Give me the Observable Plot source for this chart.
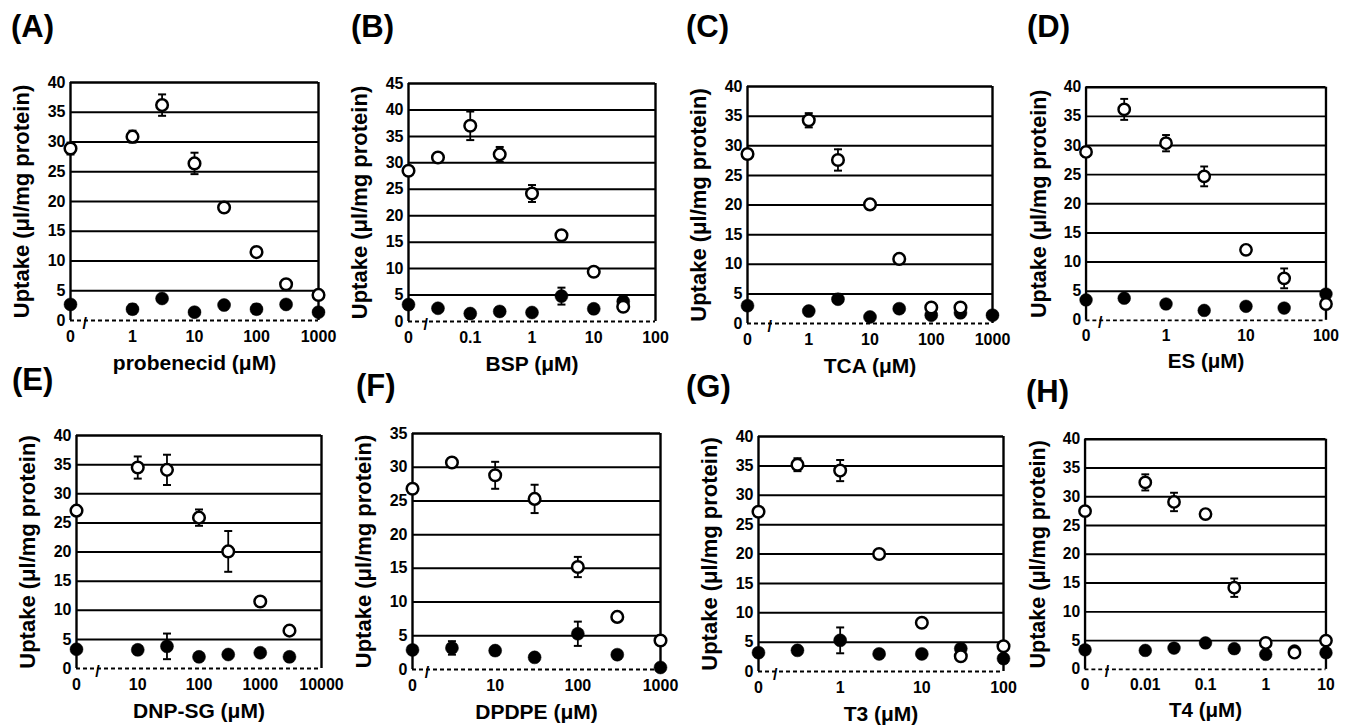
<!DOCTYPE html>
<html><head><meta charset="utf-8">
<script src="https://cdn.jsdelivr.net/npm/d3@7"></script>
<script src="https://cdn.jsdelivr.net/npm/@observablehq/plot@0.6"></script>
<style>
body{margin:0;background:#fff;}
#root{position:relative;width:1349px;height:728px;overflow:hidden;font-family:"Liberation Sans",Arial,sans-serif;background:#fff;}
.plab{position:absolute;font-weight:bold;font-size:31px;line-height:31px;color:#000;}
.pan{position:absolute;}
.pan svg{overflow:visible;}
</style></head><body><div id="root"></div>
<script>
// ---------- data ----------
// (A) probenecid
const concA = [0, 1, 3, 10, 30, 100, 300, 1000];
const openA = [28.9, 30.9, 36.2, 26.4, 19.0, 11.5, 6.1, 4.3];
const openErrA = [1.0, 1.0, 1.8, 1.8, 0.5, 0.6, 0.5, 0.4];
const filledA = [2.7, 1.9, 3.7, 1.4, 2.6, 1.9, 2.7, 1.4];
const filledErrA = [0.5, 0.8, 0.5, 0.5, 0.4, 0.8, 0.6, 0.4];
const ticksA = [0, 1, 10, 100, 1000];

// (B) BSP
const concB = [0, 0.03, 0.1, 0.3, 1, 3, 10, 30];
const openB = [28.5, 31.0, 37.0, 31.6, 24.2, 16.3, 9.4, 2.8];
const openErrB = [0.8, 0.5, 2.7, 1.4, 1.6, 0.8, 0.5, 0.5];
const filledB = [3.2, 2.5, 1.5, 1.9, 1.7, 4.8, 2.4, 3.8];
const filledErrB = [0.5, 0.4, 0.4, 0.8, 0.4, 1.6, 0.4, 0.8];
const ticksB = [0, 0.1, 1, 10, 100];

// (C) TCA
const concC = [0, 1, 3, 10, 30, 100, 300, 1000];
const openC = [28.6, 34.3, 27.6, 20.1, 10.9, 2.7, 2.7, null];
const openErrC = [0.8, 1.2, 1.8, 0.8, 0.6, 0.5, 0.5, 0];
const filledC = [3.0, 2.1, 4.1, 1.1, 2.5, 1.4, 1.8, 1.4];
const filledErrC = [0.5, 0.4, 0.5, 0.4, 0.4, 0.4, 0.4, 0.4];
const ticksC = [0, 1, 10, 100, 1000];

// (D) ES
const concD = [0, 0.3, 1, 3, 10, 30, 100];
const openD = [28.9, 36.2, 30.4, 24.7, 12.1, 7.2, 2.8];
const openErrD = [0.8, 1.8, 1.4, 1.7, 0.5, 1.7, 0.5];
const filledD = [3.5, 3.8, 2.8, 1.7, 2.4, 2.1, 4.5];
const filledErrD = [0.4, 0.4, 0.4, 0.4, 0.4, 0.4, 0.6];
const ticksD = [0, 1, 10, 100];

// (E) DNP-SG
const concE = [0, 10, 30, 100, 300, 1000, 3000];
const openE = [27.1, 34.5, 34.1, 25.9, 20.1, 11.5, 6.5];
const openErrE = [0.5, 1.9, 2.6, 1.4, 3.5, 0.5, 0.5];
const filledE = [3.3, 3.2, 3.8, 2.0, 2.4, 2.7, 2.0];
const filledErrE = [0.4, 0.5, 2.2, 0.4, 0.4, 0.4, 0.4];
const ticksE = [0, 10, 100, 1000, 10000];

// (F) DPDPE
const concF = [0, 3, 10, 30, 100, 300, 1000];
const openF = [26.8, 30.7, 28.8, 25.3, 15.2, 7.8, 4.3];
const openErrF = [0.5, 0.6, 2.0, 2.1, 1.5, 0.5, 0.5];
const filledF = [2.9, 3.2, 2.8, 1.8, 5.3, 2.2, 0.3];
const filledErrF = [0.4, 1.0, 0.4, 0.4, 1.8, 0.4, 0.2];
const ticksF = [0, 10, 100, 1000];

// (G) T3
const concG = [0, 0.3, 1, 3, 10, 30, 100];
const openG = [27.2, 35.2, 34.2, 20.0, 8.3, 2.6, 4.3];
const openErrG = [0.5, 1.1, 1.8, 0.5, 0.5, 0.5, 0.5];
const filledG = [3.2, 3.6, 5.3, 3.0, 3.0, 3.9, 2.2];
const filledErrG = [0.4, 0.4, 2.2, 0.4, 0.4, 0.6, 0.4];
const ticksG = [0, 1, 10, 100];

// (H) T4
const concH = [0, 0.01, 0.03, 0.1, 0.3, 1, 3, 10];
const openH = [27.5, 32.5, 29.1, 27.0, 14.2, 4.6, 2.9, 5.0];
const openErrH = [0.5, 1.4, 1.6, 0.5, 1.6, 0.5, 0.5, 0.5];
const filledH = [3.4, 3.3, 3.7, 4.6, 3.6, 2.6, 3.2, 2.9];
const filledErrH = [0.4, 0.4, 0.4, 0.5, 0.4, 0.4, 0.4, 0.4];
const ticksH = [0, 0.01, 0.1, 1, 10];

// axis settings: where "0" sits on the log axis, axis end, break position, y max
const panelIds = ["A", "B", "C", "D", "E", "F", "G", "H"];
const xLabels = ["probenecid (μM)", "BSP (μM)", "TCA (μM)", "ES (μM)", "DNP-SG (μM)", "DPDPE (μM)", "T3 (μM)", "T4 (μM)"];
const zeroAt = [0.1, 0.01, 0.1, 0.1, 1, 1, 0.1, 0.001];
const xMax = [1000, 100, 1000, 100, 10000, 1000, 100, 10];
const breakAt = [0.17, 0.019, 0.23, 0.15, 2.2, 1.5, 0.16, 0.0023];
const yMax = [40, 45, 40, 40, 40, 35, 40, 40];
const yLabel = "Uptake (μl/mg protein)";

// ---------- layout ----------
const frames = [
  {l: 70, t: 82, w: 248, h: 238},
  {l: 408, t: 83, w: 247, h: 238},
  {l: 747, t: 86, w: 245, h: 237},
  {l: 1087, t: 87, w: 245, h: 238},
  {l: 76, t: 435, w: 245, h: 233},
  {l: 412, t: 433, w: 248, h: 236},
  {l: 758, t: 436, w: 245, h: 235},
  {l: 1086, t: 439, w: 246, h: 235}
];
const tagPos = [
  {x: 11, y: 11}, {x: 351, y: 11}, {x: 686, y: 11}, {x: 1027, y: 11},
  {x: 12, y: 364}, {x: 356, y: 370}, {x: 686, y: 371}, {x: 1026, y: 376}
];

const series = {
  A: [concA, openA, openErrA, filledA, filledErrA, ticksA],
  B: [concB, openB, openErrB, filledB, filledErrB, ticksB],
  C: [concC, openC, openErrC, filledC, filledErrC, ticksC],
  D: [concD, openD, openErrD, filledD, filledErrD, ticksD],
  E: [concE, openE, openErrE, filledE, filledErrE, ticksE],
  F: [concF, openF, openErrF, filledF, filledErrF, ticksF],
  G: [concG, openG, openErrG, filledG, filledErrG, ticksG],
  H: [concH, openH, openErrH, filledH, filledErrH, ticksH]
};

const root = document.getElementById("root");
const mL = 70, mR = 24, mT = 12, mB = 62;
const FONT = '"Liberation Sans", Arial, sans-serif';
const cap = {draw(ctx) { ctx.moveTo(-4, 0); ctx.lineTo(4, 0); }};

panelIds.forEach((id, i) => {
  const [conc, open, openErr, filled, filledErr, ticks] = series[id];
  const zero = zeroAt[i];
  const xv = c => (c === 0 ? zero : c);
  const openData = conc.map((c, j) => ({x: xv(c), y: open[j], e: openErr[j]})).filter(d => d.y != null);
  const filledData = conc.map((c, j) => ({x: xv(c), y: filled[j], e: filledErr[j]})).filter(d => d.y != null);
  const errData = filledData.concat(openData);
  const f = frames[i];
  const yTicks = d3.range(0, yMax[i] + 0.1, 5);
  const plot = Plot.plot({
    width: f.w + mL + mR,
    height: f.h + mT + mB,
    marginLeft: mL, marginRight: mR, marginTop: mT, marginBottom: mB,
    style: {fontFamily: FONT, fontWeight: "bold", fontSize: "16px", color: "black", background: "transparent", overflow: "visible"},
    x: {type: "log", domain: [zero, xMax[i]]},
    y: {domain: [0, yMax[i]]},
    marks: [
      Plot.gridY(yTicks.filter(v => v > 0 && v < yMax[i]), {stroke: "black", strokeOpacity: 1, strokeWidth: 2}),
      // plot border: solid top, left and right; dotted baseline as in the scan
      Plot.ruleY([yMax[i]], {stroke: "black", strokeWidth: 2.4}),
      Plot.ruleX([zero, xMax[i]], {stroke: "black", strokeWidth: 2.4}),
      Plot.ruleY([0], {stroke: "black", strokeWidth: 1.8, strokeDasharray: "4,3"}),
      Plot.axisY(yTicks, {tickSize: 0, tickPadding: 5, fontSize: 16, label: null}),
      Plot.axisY([], {label: yLabel, labelAnchor: "center", labelArrow: "none", labelOffset: 57, fontSize: 22}),
      Plot.axisX(ticks.map(xv), {tickSize: 0, tickPadding: 10, fontSize: 16, label: null,
        tickFormat: d => (d === zero ? "0" : d3.format("~g")(d))}),
      Plot.axisX([], {label: xLabels[i], labelAnchor: "center", labelArrow: "none", labelOffset: 49, fontSize: 21}),
      Plot.text([breakAt[i]], {x: d => d, y: 0, text: () => "/", fontSize: 16, fontWeight: "bold", dy: 3}),
      Plot.ruleX(errData, {x: "x", y1: d => d.y - d.e, y2: d => d.y + d.e, stroke: "black", strokeWidth: 1.8}),
      Plot.dot(errData, {x: "x", y: d => d.y + d.e, symbol: cap, stroke: "black", strokeWidth: 2}),
      Plot.dot(errData, {x: "x", y: d => d.y - d.e, symbol: cap, stroke: "black", strokeWidth: 2}),
      Plot.dot(filledData, {x: "x", y: "y", r: 6.5, fill: "black", stroke: "black", strokeWidth: 0.5}),
      Plot.dot(openData, {x: "x", y: "y", r: 5.8, fill: "white", stroke: "black", strokeWidth: 2.5})
    ]
  });
  const div = document.createElement("div");
  div.className = "pan";
  div.style.left = (f.l - mL) + "px";
  div.style.top = (f.t - mT) + "px";
  div.appendChild(plot);
  root.appendChild(div);

  const tag = document.createElement("div");
  tag.className = "plab";
  tag.style.left = tagPos[i].x + "px";
  tag.style.top = tagPos[i].y + "px";
  tag.textContent = "(" + id + ")";
  root.appendChild(tag);
});
</script></body></html>
